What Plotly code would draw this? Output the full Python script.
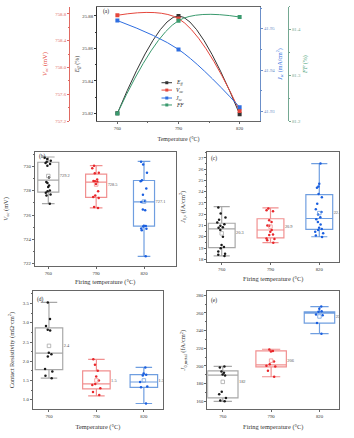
import plotly.graph_objects as go

W, H = 354, 438
FONT = "Liberation Serif"

# ---------------- data: panel (a) ----------------
temps = [760, 790, 820]
eff = [25.820, 25.880, 25.8195]
voc = [758.78, 758.73, 757.35]
jsc = [41.952, 41.945, 41.931]
ff = [81.217, 81.420, 81.428]

# ---------------- data: box panels ----------------
temp_labels = ["760", "790", "820"]
positions = [1, 2, 3]

# (b) Voc (mV)
b_760 = [730.70, 730.59, 730.46, 730.38, 730.27, 730.19, 730.05, 729.08, 728.70,
         728.62, 728.43, 728.29, 728.02, 727.94, 727.83, 727.69, 727.61, 726.93]
b_790 = [730.05, 729.84, 729.46, 729.43, 728.92, 728.80, 728.78, 728.73, 728.54,
         727.94, 727.61, 727.48, 727.40, 726.66, 726.58]
b_820 = [730.38, 730.14, 729.46, 728.86, 728.78, 728.18, 727.67, 727.15, 727.07,
         726.45, 726.39, 725.12, 725.09, 725.06, 724.90, 724.87, 724.74, 722.62]
b_lower = [726.94, 726.58, 722.60]
b_q1 = [727.88, 727.45, 725.09]
b_med = [728.86, 728.70, 727.07]
b_q3 = [730.33, 729.35, 728.83]
b_upper = [730.76, 730.05, 730.40]
b_mean = [729.2, 728.5, 727.1]

# (c) J0,s (fA/cm2)
c_760 = [22.60, 22.06, 21.70, 21.50, 21.26, 21.10, 20.97, 20.85, 20.80, 20.60,
         20.00, 19.26, 19.10, 18.97, 18.70, 18.50, 18.40, 18.30]
c_790 = [22.50, 22.35, 22.26, 21.47, 21.30, 21.00, 20.97, 20.60, 20.44, 20.20,
         20.15, 19.85, 19.80, 19.70, 19.47]
c_820 = [26.50, 24.70, 24.47, 24.35, 23.80, 23.50, 22.94, 22.44, 22.20, 21.97,
         21.74, 21.56, 21.32, 21.09, 20.80, 20.68, 20.60, 20.44, 20.30, 20.10, 19.97]
c_lower = [18.30, 19.47, 20.00]
c_q1 = [19.03, 19.90, 20.65]
c_med = [20.70, 20.60, 21.62]
c_q3 = [21.20, 21.60, 23.74]
c_upper = [22.68, 22.56, 26.50]
c_mean = [20.3, 20.9, 22.1]

# (d) Contact resistivity (mOhm cm2)
d_760 = [3.53, 3.10, 2.92, 2.82, 2.80, 2.22, 2.18, 2.12, 1.80, 1.73, 1.62, 1.56]
d_790 = [2.05, 1.91, 1.75, 1.60, 1.50, 1.41, 1.38, 1.30, 1.20, 1.12]
d_820 = [1.84, 1.68, 1.65, 1.63, 1.46, 1.34, 1.32, 0.90]
d_lower = [1.56, 1.10, 0.90]
d_q1 = [1.78, 1.28, 1.32]
d_med = [2.21, 1.41, 1.46]
d_q3 = [2.87, 1.75, 1.65]
d_upper = [3.53, 2.05, 1.84]
d_mean = [2.4, 1.5, 1.5]

# (e) J0,metal (fA/cm2)
e_760 = [199.4, 198.25, 193.75, 192.25, 190.4, 189.25, 170.9, 167.9, 163.75, 160.0, 160.75]
e_790 = [218.5, 217.0, 216.25, 205.0, 202.0, 200.1, 199.4, 194.5, 187.75]
e_820 = [267.25, 264.6, 262.0, 261.25, 258.25, 257.5, 248.5, 236.5]
e_lower = [160.0, 187.75, 236.5]
e_q1 = [163.75, 199.0, 248.5]
e_med = [189.6, 201.25, 259.75]
e_q3 = [194.5, 217.0, 261.25]
e_upper = [199.4, 218.9, 267.25]
e_mean = [182, 206, 256]

# ---------------- styles ----------------
C_EFF = "#333333"
C_VOC = "#e5473d"
C_JSC = "#2f6ee0"
C_FF = "#3a9a6e"
AX_VOC = "#e06a62"
AX_JSC = "#6b8fc9"
AX_FF = "#74a892"
BOX_COL = ["#a8a8a8", "#f19090", "#6f9ee0"]
PT_COL = ["#1a1a1a", "#e8262a", "#1a5fe0"]
FRAME = "#666666"
TICK = 4.8
TITLE = 6.4


def fx(p):
    return p / W


def fy(p):
    return 1 - p / H


fig = go.Figure()

# ---------------- panel (a) lines ----------------
series = [
    (eff, "y", C_EFF),
    (voc, "y2", C_VOC),
    (jsc, "y3", C_JSC),
    (ff, "y4", C_FF),
]
for vals, yax, col in series:
    fig.add_trace(go.Scatter(
        x=temps, y=vals, xaxis="x", yaxis=yax, mode="lines+markers",
        line=dict(color=col, width=1, shape="spline"),
        marker=dict(symbol="square", size=4, color=col),
        showlegend=False, hoverinfo="skip"))

# ---------------- box panels ----------------
panels = [
    ("x2", "y5", [b_760, b_790, b_820], b_lower, b_q1, b_med, b_q3, b_upper, b_mean, 0.44, "{:.1f}"),
    ("x3", "y6", [c_760, c_790, c_820], c_lower, c_q1, c_med, c_q3, c_upper, c_mean, 0.55, "{:.1f}"),
    ("x4", "y7", [d_760, d_790, d_820], d_lower, d_q1, d_med, d_q3, d_upper, d_mean, 0.58, "{:.1f}"),
    ("x5", "y8", [e_760, e_790, e_820], e_lower, e_q1, e_med, e_q3, e_upper, e_mean, 0.63, "{:.0f}"),
]
for xa, ya, pts, lo, q1, med, q3, up, mean, bw, fmt in panels:
    for i in range(3):
        fig.add_trace(go.Box(
            x=[positions[i]], q1=[q1[i]], median=[med[i]], q3=[q3[i]],
            lowerfence=[lo[i]], upperfence=[up[i]],
            xaxis=xa, yaxis=ya, width=bw, whiskerwidth=0.6,
            line=dict(color=BOX_COL[i], width=1.2),
            fillcolor="rgba(0,0,0,0)", boxpoints=False,
            showlegend=False, hoverinfo="skip"))
        fig.add_trace(go.Box(
            x=[positions[i]] * len(pts[i]), y=pts[i],
            xaxis=xa, yaxis=ya, width=bw,
            boxpoints="all", jitter=0.4, pointpos=0,
            line=dict(color="rgba(0,0,0,0)", width=0),
            fillcolor="rgba(0,0,0,0)",
            marker=dict(color=PT_COL[i], size=2.5, line=dict(width=0)),
            showlegend=False, hoverinfo="skip"))
    fig.add_trace(go.Scatter(
        x=positions, y=mean, xaxis=xa, yaxis=ya, mode="markers",
        marker=dict(symbol="square-open", size=3.5, color=BOX_COL, line=dict(width=0.8)),
        showlegend=False, hoverinfo="skip"))
    fig.add_trace(go.Scatter(
        x=[p + bw / 2 + 0.02 for p in positions], y=mean, xaxis=xa, yaxis=ya,
        mode="text", text=[fmt.format(m) for m in mean], textposition="middle right",
        textfont=dict(size=4.4, color="#555555", family=FONT),
        showlegend=False, hoverinfo="skip"))

# ---------------- axes ----------------
def base_axis(**kw):
    d = dict(showgrid=False, zeroline=False, showline=True, linewidth=0.9,
             ticks="outside", ticklen=2, tickwidth=0.8,
             tickfont=dict(size=TICK, family=FONT, color="#333333"))
    d.update(kw)
    return d


a_dom_x = [fx(97), fx(260)]
a_dom_y = [fy(122), fy(7)]

layout = dict(
    width=W, height=H, margin=dict(l=0, r=0, t=0, b=0),
    paper_bgcolor="white", plot_bgcolor="white",
    font=dict(family=FONT, color="#333333"),
    showlegend=False, boxmode="overlay",
)

layout["xaxis"] = base_axis(
    domain=a_dom_x, anchor="y", range=[750, 830], tickvals=temps,
    linecolor=FRAME, mirror=True, tickcolor=FRAME,
    minor=dict(ticks="outside", ticklen=1.2, dtick=15, tick0=760, tickcolor=FRAME),
    title=dict(text="Temperature (°C)", font=dict(size=6, family=FONT), standoff=6))
layout["yaxis"] = base_axis(
    domain=a_dom_y, anchor="x", range=[25.8152, 25.8855],
    tickvals=[25.82, 25.84, 25.86, 25.88], ticktext=["25.82", "25.84", "25.86", "25.88"],
    linecolor=C_EFF, tickcolor=C_EFF,
    minor=dict(ticks="outside", ticklen=1.2, dtick=0.01, tick0=25.82, tickcolor=C_EFF),
    title=dict(text="<i>E</i><sub><i>ff</i></sub> (%)", font=dict(size=6, family=FONT), standoff=2))
layout["yaxis2"] = base_axis(
    overlaying="y", side="left", anchor="free", position=fx(69),
    range=[757.2, 758.904], tickvals=[757.2, 757.6, 758.0, 758.4, 758.8],
    ticktext=["757.2", "757.6", "758.0", "758.4", "758.8"],
    linecolor=AX_VOC, tickcolor=AX_VOC,
    tickfont=dict(size=TICK, family=FONT, color=AX_VOC),
    minor=dict(ticks="outside", ticklen=1.2, dtick=0.2, tick0=757.2, tickcolor=AX_VOC),
    title=dict(text="<i>V</i><sub><i>oc</i></sub> (mV)", font=dict(size=6.5, family=FONT, color=C_VOC), standoff=6))
layout["yaxis3"] = base_axis(
    overlaying="y", side="right", anchor="x",
    range=[41.9276, 41.9553], tickvals=[41.93, 41.94, 41.95],
    ticktext=["41.93", "41.94", "41.95"],
    linecolor=AX_JSC, tickcolor=AX_JSC,
    tickfont=dict(size=TICK, family=FONT, color=AX_JSC),
    minor=dict(ticks="outside", ticklen=1.2, dtick=0.005, tick0=41.93, tickcolor=AX_JSC),
    title=dict(text="<i>J</i><sub><i>sc</i></sub> (mA/cm<sup>2</sup>)", font=dict(size=6, family=FONT, color=C_JSC), standoff=1))
layout["yaxis4"] = base_axis(
    overlaying="y", side="right", anchor="free", position=fx(288),
    range=[81.2, 81.45], tickvals=[81.2, 81.3, 81.4],
    ticktext=["81.2", "81.3", "81.4"],
    linecolor=AX_FF, tickcolor=AX_FF,
    tickfont=dict(size=TICK, family=FONT, color=AX_FF),
    minor=dict(ticks="outside", ticklen=1.2, dtick=0.05, tick0=81.2, tickcolor=AX_FF),
    title=dict(text="<i>FF</i> (%)", font=dict(size=6, family=FONT, color=C_FF), standoff=2))

box_axes = [
    ("xaxis2", "yaxis5", "x2", "y5", (34.7, 175.6), (152.7, 268.0), [0.716, 3.66], [721.8, 731.2],
     [722, 724, 726, 728, 730], "{:.0f}", 1,
     "<i>V</i><sub><i>oc</i></sub> (mV)", "Firing temperature (°C)", 14, 4),
    ("xaxis3", "yaxis6", "x3", "y6", (207.3, 339.3), (152.7, 264.0), [0.705, 3.41], [17.74, 27.56],
     [18, 19, 20, 21, 22, 23, 24, 25, 26, 27], "{:.0f}", 0.5,
     "<i>J</i><sub>0,s</sub> (fA/cm<sup>2</sup>)", "Firing temperature (°C)", 12, 5),
    ("xaxis4", "yaxis7", "x4", "y7", (32.7, 163.3), (293.3, 411.7), [0.657, 3.41], [0.76, 3.82],
     [1.0, 1.5, 2.0, 2.5, 3.0, 3.5], "{:.1f}", 0.25,
     "Contact Resistivity (mΩ·cm<sup>2</sup>)", "Temperature (°C)", 7, 6),
    ("xaxis5", "yaxis8", "x5", "y8", (207.3, 339.3), (293.3, 411.7), [0.68, 3.41], [151.4, 284.5],
     [160, 180, 200, 220, 240, 260, 280], "{:.0f}", 10,
     "<i>J</i><sub>0,metal</sub> (fA/cm<sup>2</sup>)", "Firing temperature (°C)", 9, 6),
]
for xk, yk, xa, ya, xd, yd, xr, yr, tv, fmt, mdt, yt, xt, so, xso in box_axes:
    layout[xk] = base_axis(
        domain=[fx(xd[0]), fx(xd[1])], anchor=ya, range=xr,
        tickvals=positions, ticktext=temp_labels,
        linecolor=FRAME, mirror=True, tickcolor=FRAME,
        title=dict(text=xt, font=dict(size=TITLE, family=FONT), standoff=xso))
    layout[yk] = base_axis(
        domain=[fy(yd[1]), fy(yd[0])], anchor=xa, range=yr,
        tickvals=tv, ticktext=[fmt.format(v) for v in tv],
        linecolor=FRAME, mirror=True, tickcolor=FRAME,
        minor=dict(ticks="outside", ticklen=1.2, dtick=mdt, tick0=tv[0], tickcolor=FRAME),
        title=dict(text=yt, font=dict(size=TITLE, family=FONT), standoff=so))

# ---------------- manual legend for panel (a) + panel letters ----------------
shapes = []
annotations = []
leg_items = [("<i>E</i><sub><i>ff</i></sub>", C_EFF), ("<i>V</i><sub><i>oc</i></sub>", C_VOC),
             ("<i>J</i><sub><i>sc</i></sub>", C_JSC), ("<i>FF</i>", C_FF)]
leg_rows = [83.3, 90.7, 98.7, 105.7]
for (txt, col), yy in zip(leg_items, leg_rows):
    shapes.append(dict(type="line", xref="paper", yref="paper",
                       x0=fx(161.5), x1=fx(172), y0=fy(yy), y1=fy(yy),
                       line=dict(color=col, width=1)))
    shapes.append(dict(type="rect", xref="paper", yref="paper",
                       x0=fx(165.3), x1=fx(168.3), y0=fy(yy + 1.5), y1=fy(yy - 1.5),
                       line=dict(width=0), fillcolor=col))
    annotations.append(dict(text=txt, xref="paper", yref="paper", x=fx(173.5), y=fy(yy),
                            xanchor="left", yanchor="middle", showarrow=False,
                            font=dict(size=5.5, family=FONT, color="#222222")))

letters = [("(a)", 101, 12), ("(b)", 36.5, 157.5), ("(c)", 209, 159.5), ("(d)", 34.5, 301.5), ("(e)", 209, 303)]
for t, xx, yy in letters:
    annotations.append(dict(text=t, xref="paper", yref="paper", x=fx(xx), y=fy(yy),
                            xanchor="left", yanchor="middle", showarrow=False,
                            font=dict(size=5.5, family=FONT, color="#222222")))

layout["shapes"] = shapes
layout["annotations"] = annotations
fig.update_layout(**layout)
fig.write_html("out.html")
